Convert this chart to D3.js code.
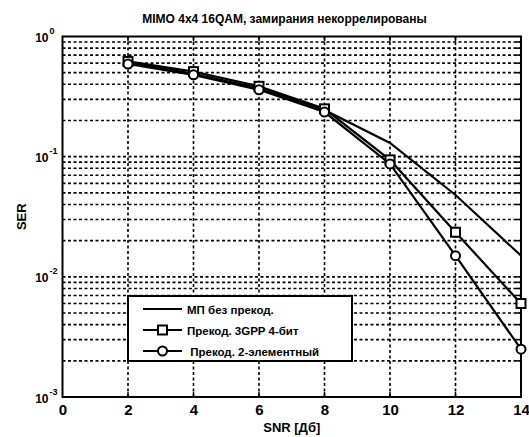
<!DOCTYPE html>
<html>
<head>
<meta charset="utf-8">
<script src="https://cdn.jsdelivr.net/npm/d3@7"></script>
<style>
  body { margin: 0; background: #fff; }
  text { font-family: "Liberation Sans", Arial, sans-serif; font-weight: bold; fill: #000; }
</style>
</head>
<body>
<div id="chart"></div>
<script>
// SNR points (dB)
const snr = [2, 4, 6, 8, 10, 12, 14]
// SER per curve
const serNoPrecoding = [0.61, 0.49, 0.37, 0.245, 0.13, 0.048, 0.015]
const ser3gpp = [0.62, 0.51, 0.385, 0.25, 0.094, 0.0235, 0.006]
const ser2elem = [0.59, 0.48, 0.36, 0.235, 0.087, 0.015, 0.0025]
const seriesNames = ["МП без прекод.", "Прекод. 3GPP 4-бит", " Прекод. 2-элементный"]
const xTicks = [0, 2, 4, 6, 8, 10, 12, 14]
const yExponents = [0, -1, -2, -3]

const width = 529
const height = 437
const marginTop = 36.5
const marginRight = 8
const marginBottom = 40
const marginLeft = 62.5

const x = d3.scaleLinear()
    .domain([0, 14])
    .range([marginLeft, width - marginRight])

const y = d3.scaleLog()
    .domain([1e-3, 1])
    .range([height - marginBottom, marginTop])

const svg = d3.select("#chart").append("svg")
    .attr("width", width)
    .attr("height", height)
    .attr("viewBox", [0, 0, width, height])

// log grid: every 1..9 x decade
const yGrid = []
for (let e = -3; e < 0; e++) {
    for (let m = 1; m < 10; m++) yGrid.push(m * Math.pow(10, e))
}

const grid = svg.append("g")
    .attr("stroke", "#000")
    .attr("stroke-width", 1.6)
    .attr("stroke-dasharray", "3,2.5")

grid.selectAll(".hg")
    .data(yGrid.filter(v => v > 1e-3))
    .join("line")
    .attr("x1", x(0)).attr("x2", x(14))
    .attr("y1", d => y(d)).attr("y2", d => y(d))

grid.selectAll(".vg")
    .data(xTicks.filter(v => v > 0 && v < 14))
    .join("line")
    .attr("x1", d => x(d)).attr("x2", d => x(d))
    .attr("y1", y(1)).attr("y2", y(1e-3))

// small inside ticks: right side (y) and top/bottom (x)
const ticks = svg.append("g")
    .attr("stroke", "#000")
    .attr("stroke-width", 1.5)
ticks.selectAll(".ry")
    .data(yGrid.filter(v => v > 1e-3))
    .join("line")
    .attr("x1", x(14) - 5).attr("x2", x(14))
    .attr("y1", d => y(d)).attr("y2", d => y(d))
ticks.selectAll(".tx")
    .data(xTicks.filter(v => v > 0 && v < 14))
    .join("line")
    .attr("x1", d => x(d)).attr("x2", d => x(d))
    .attr("y1", y(1)).attr("y2", y(1) + 5)
ticks.selectAll(".bx")
    .data(xTicks.filter(v => v > 0 && v < 14))
    .join("line")
    .attr("x1", d => x(d)).attr("x2", d => x(d))
    .attr("y1", y(1e-3)).attr("y2", y(1e-3) - 5)

// frame
svg.append("rect")
    .attr("x", x(0)).attr("y", y(1))
    .attr("width", x(14) - x(0))
    .attr("height", y(1e-3) - y(1))
    .attr("fill", "none")
    .attr("stroke", "#000")
    .attr("stroke-width", 2)

// x axis labels
svg.append("g")
    .attr("transform", `translate(0,${height - marginBottom})`)
    .call(d3.axisBottom(x).tickValues(xTicks).tickSize(0).tickPadding(7))
    .call(g => g.select(".domain").remove())
    .call(g => g.selectAll("text")
        .attr("font-family", "Liberation Sans, Arial, sans-serif")
        .attr("font-weight", "bold")
        .attr("font-size", 15))

// y axis labels 10^n
const yl = svg.append("g")
    .selectAll("g")
    .data(yExponents)
    .join("g")
    .attr("transform", d => `translate(0,${y(Math.pow(10, d)) + 5.5})`)
yl.append("text")
    .attr("x", 48.5)
    .attr("text-anchor", "end")
    .attr("font-size", 12)
    .text("10")
yl.append("text")
    .attr("x", 49.5)
    .attr("y", -8)
    .attr("font-size", 9)
    .text(d => d)

// curves
const curves = [
    { values: serNoPrecoding, marker: null },
    { values: ser3gpp, marker: "square" },
    { values: ser2elem, marker: "circle" },
]

const line = d3.line()
    .x((d, i) => x(snr[i]))
    .y(d => y(d))

svg.append("g")
    .attr("fill", "none")
    .attr("stroke", "#000")
    .attr("stroke-width", 2.2)
    .selectAll("path")
    .data(curves)
    .join("path")
    .attr("d", d => line(d.values))

function drawMarker(g, type, cx, cy) {
    if (type === "square") {
        g.append("rect")
            .attr("x", cx - 4.5).attr("y", cy - 4.5)
            .attr("width", 9).attr("height", 9)
            .attr("fill", "#fff").attr("stroke", "#000").attr("stroke-width", 2)
    } else if (type === "circle") {
        g.append("circle")
            .attr("cx", cx).attr("cy", cy).attr("r", 4.5)
            .attr("fill", "#fff").attr("stroke", "#000").attr("stroke-width", 2)
    }
}

const markers = svg.append("g")
curves.forEach(c => {
    if (!c.marker) return
    c.values.forEach((v, i) => drawMarker(markers, c.marker, x(snr[i]), y(v)))
})

// title and axis titles
svg.append("text")
    .attr("x", 284.5)
    .attr("y", 23)
    .attr("text-anchor", "middle")
    .attr("font-size", 12)
    .text("MIMO 4x4 16QAM, замирания некоррелированы")

svg.append("text")
    .attr("x", (x(0) + x(14)) / 2)
    .attr("y", 432)
    .attr("text-anchor", "middle")
    .attr("font-size", 13)
    .text("SNR [Дб]")

svg.append("text")
    .attr("transform", `translate(26,${(y(1) + y(1e-3)) / 2}) rotate(-90)`)
    .attr("text-anchor", "middle")
    .attr("font-size", 13)
    .text("SER")

// legend
const legend = svg.append("g").attr("transform", "translate(128,296)")
legend.append("rect")
    .attr("width", 224).attr("height", 65)
    .attr("fill", "#fff").attr("stroke", "#000").attr("stroke-width", 2)

const rowY = [13, 34, 55]
curves.forEach((c, i) => {
    legend.append("line")
        .attr("x1", 15).attr("x2", 54)
        .attr("y1", rowY[i]).attr("y2", rowY[i])
        .attr("stroke", "#000").attr("stroke-width", 2.2)
    drawMarker(legend, c.marker, 34.5, rowY[i])
    legend.append("text")
        .attr("x", 59)
        .attr("y", rowY[i] + 4.5)
        .attr("font-size", 11.5)
        .style("white-space", "pre")
        .text(seriesNames[i])
})
</script>
</body>
</html>
